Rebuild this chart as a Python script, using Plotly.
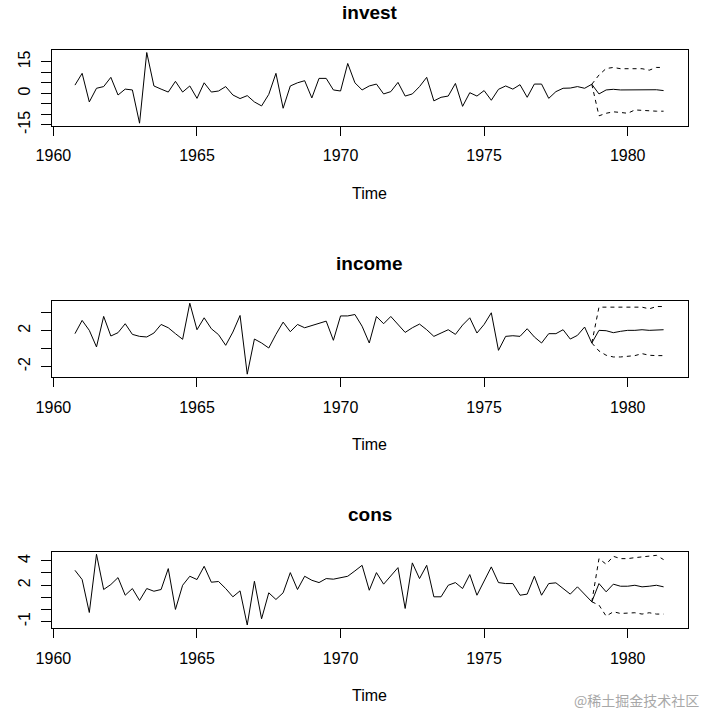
import plotly.graph_objects as go

W, H = 708, 715

# ---- time index (quarterly ts, start 1960 Q4) ----
start_obs = 1960.75
freq = 4

invest = [3.9,
          9.5, -4.1, 2.4, 3.2,
          7.6, -0.8, 2.0, 1.6,
          -14.2, 19.4, 3.5, 2.0,
          0.6, 5.7, 0.6, 3.5,
          -2.4, 5.0, 0.6, 1.1,
          3.2, -0.8, -2.5, -1.1,
          -4.1, -6.0, -0.5, 9.5,
          -7.1, 3.5, 5.0, 6.0,
          -2.2, 7.1, 7.1, 1.6,
          1.1, 14.2, 5.0, 1.6,
          3.5, 4.4, -0.3, 0.8,
          5.2, -1.3, -0.3, 3.2,
          7.6, -3.6, -1.9, -1.3,
          4.7, -6.2, 0.3, -1.3,
          1.3, -3.3, 1.9, 3.5,
          2.0, 4.1, -1.9, 4.4,
          4.4, -2.4, 0.8, 2.4,
          2.5, 3.2, 2.4, 4.3]
invest_fc = [-0.3, 1.6, 1.9, 1.6, 1.6, 1.6, 1.6, 1.6, 1.7, 1.3]
invest_up = [8.7, 11.8, 12.3, 11.7, 11.7, 11.7, 11.7, 11.0, 12.3, 12.3]
invest_lo = [-10.7, -9.5, -8.8, -9.1, -9.5, -7.9, -8.2, -8.5, -8.5, -8.5]

income = [1.67,
          3.15, 2.04, 0.19, 3.6,
          1.41, 1.78, 2.78, 1.59,
          1.37, 1.3, 1.74, 2.7,
          2.33, 1.67, 1.04, 5.07,
          2.11, 3.44, 2.22, 1.56,
          0.37, 1.85, 3.7, -2.85,
          1.07, 0.63, 0.07, 1.59,
          2.96, 1.89, 2.7, 2.33,
          2.59, 2.85, 3.07, 0.93,
          3.65, 3.65, 3.81, 2.5,
          0.63, 3.59, 2.78, 3.59,
          2.7, 1.81, 2.33, 2.74,
          2.11, 1.37, 1.74, 2.11,
          1.59, 2.63, 3.44, 1.74,
          2.7, 4.0, -0.19, 1.37,
          1.44, 1.37, 2.22, 1.3,
          0.63, 1.67, 1.67, 2.11,
          1.07, 1.48, 2.41, 0.63]
income_fc = [2.04, 2.0, 1.78, 1.93, 2.04, 2.04, 2.11, 2.04, 2.11, 2.11]
income_up = [4.63, 4.63, 4.63, 4.63, 4.7, 4.7, 4.63, 4.44, 4.7, 4.7]
income_lo = [-0.26, -0.74, -0.93, -0.93, -0.89, -0.78, -0.56, -0.74, -0.78, -0.78]

cons = [3.22,
        2.46, -0.25, 4.54, 1.64,
        2.05, 2.62, 1.17, 1.72,
        0.74, 1.72, 1.5, 1.64,
        3.36, 0.0, 1.99, 2.73,
        2.46, 3.55, 2.24, 2.3,
        1.72, 1.04, 1.53, -1.28,
        2.32, -0.77, 1.37, 0.82,
        1.37, 3.03, 1.64, 2.73,
        2.4, 2.21, 2.54, 2.49,
        2.62, 2.73, 3.17, 3.63,
        1.58, 3.03, 2.08, 2.76,
        3.44, 0.08, 3.83, 2.54,
        3.63, 1.04, 1.04, 1.99,
        2.21, 1.72, 2.87, 1.17,
        2.35, 3.5, 2.21, 2.13,
        2.13, 1.17, 1.26, 2.73,
        1.17, 2.13, 2.19, 1.72,
        1.26, 1.86, 1.26, 0.63]
cons_fc = [2.13, 1.45, 2.08, 1.91, 1.91, 1.99, 1.86, 1.91, 1.99, 1.86]
cons_up = [4.18, 3.72, 4.37, 4.18, 4.18, 4.26, 4.32, 4.37, 4.45, 4.1]
cons_lo = [0.36, -0.55, -0.19, -0.33, -0.33, -0.27, -0.38, -0.27, -0.38, -0.38]

names = ["invest", "income", "cons"]
x_ticks = [1960, 1965, 1970, 1975, 1980]
y_ticks = {
    "invest": ([-15, -10, -5, 0, 5, 10, 15], ["-15", "", "", "0", "", "", "15"]),
    "income": ([-2, 0, 2, 4], ["-2", "", "2", ""]),
    "cons": ([-1, 0, 1, 2, 3, 4], ["-1", "", "", "2", "", "4"]),
}
y_ranges = {"invest": [-15.4, 20.6], "income": [-3.2, 5.35], "cons": [-1.55, 4.75]}
x_range = [1959.94, 1982.09]

series = {
    "invest": (invest, invest_fc, invest_up, invest_lo),
    "income": (income, income_fc, income_up, income_lo),
    "cons": (cons, cons_fc, cons_up, cons_lo),
}

# pixel layout (window coordinates) of each panel box (top, bottom)
box_left, box_right = 51.7, 687.7
boxes = {"invest": (50.0, 125.7), "income": (300.7, 377.3), "cons": (551.7, 628.3)}
title_y = {"invest": 12, "income": 263, "cons": 514}
time_y = {"invest": 193, "income": 444, "cons": 695}

FONT = "Liberation Sans, Arial, sans-serif"

def px(p):
    return p / W

def py(p):
    return 1 - p / H

fig = go.Figure()
annotations = []
xc = px((box_left + box_right) / 2)

for i, nm in enumerate(names):
    obs, fc, up, lo = series[nm]
    t_obs = [start_obs + k / freq for k in range(len(obs))]
    t_last = t_obs[-1]
    t_fc = [t_last + (k + 1) / freq for k in range(len(fc))]
    ax = "" if i == 0 else str(i + 1)
    xa, ya = "x" + ax, "y" + ax
    line = dict(color="black", width=1)
    fig.add_trace(go.Scatter(x=t_obs, y=obs, mode="lines", line=line,
                             xaxis=xa, yaxis=ya, showlegend=False))
    fig.add_trace(go.Scatter(x=[t_last] + t_fc, y=[obs[-1]] + fc, mode="lines",
                             line=line, xaxis=xa, yaxis=ya, showlegend=False))
    for band in (up, lo):
        fig.add_trace(go.Scatter(x=[t_last] + t_fc, y=[obs[-1]] + band, mode="lines",
                                 line=dict(color="black", width=1, dash="4px,4px"),
                                 xaxis=xa, yaxis=ya, showlegend=False))
    top, bot = boxes[nm]
    fig.update_layout(**{
        "xaxis" + ax: dict(domain=[px(box_left), px(box_right)], range=x_range,
                           tickvals=x_ticks, ticks="outside", ticklen=9, tickcolor="black",
                           showline=True, mirror=True, linecolor="black", linewidth=1,
                           showgrid=False, zeroline=False, anchor=ya, automargin=False,
                           tickfont=dict(family=FONT, size=16, color="black"),
                           ticklabelstandoff=6),
        "yaxis" + ax: dict(domain=[py(bot), py(top)], range=y_ranges[nm],
                           tickvals=y_ticks[nm][0], ticktext=y_ticks[nm][1],
                           tickangle=-90, ticks="outside", ticklen=10, tickcolor="black",
                           showline=True, mirror=True, linecolor="black", linewidth=1,
                           showgrid=False, zeroline=False, anchor=xa, automargin=False,
                           tickfont=dict(family=FONT, size=16, color="black"),
                           ticklabelstandoff=4),
    })
    annotations.append(dict(text="<b>" + nm + "</b>", x=xc, y=py(title_y[nm]),
                            xref="paper", yref="paper", showarrow=False,
                            xanchor="center", yanchor="middle",
                            font=dict(family=FONT, size=19, color="black")))
    annotations.append(dict(text="Time", x=xc, y=py(time_y[nm]),
                            xref="paper", yref="paper", showarrow=False,
                            xanchor="center", yanchor="middle",
                            font=dict(family=FONT, size=16, color="black")))

annotations.append(dict(text="@稀土掘金技术社区", x=px(701), y=py(700),
                        xref="paper", yref="paper", showarrow=False,
                        xanchor="right", yanchor="middle",
                        font=dict(family="Noto Sans CJK SC", size=14, color="#a8a8a8")))

fig.update_layout(width=W, height=H, margin=dict(l=0, r=0, t=0, b=0, autoexpand=False),
                  plot_bgcolor="white", paper_bgcolor="white",
                  annotations=annotations)

# remove the page's default body margin so the figure fills the window exactly
fig.write_html("out.html", config={"displayModeBar": False},
               post_script="document.body.style.margin='0';document.body.style.overflow='hidden';")
